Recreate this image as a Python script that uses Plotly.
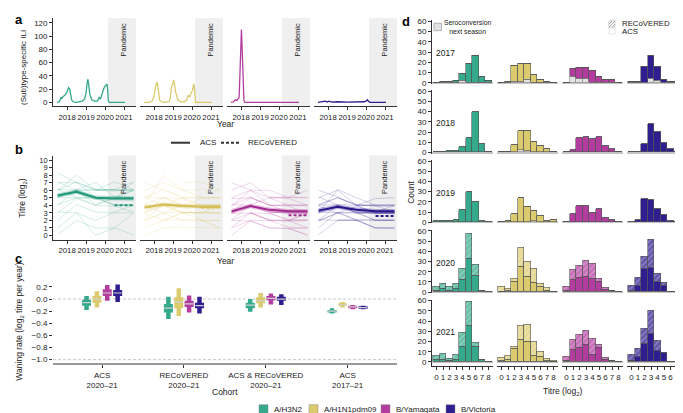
import plotly.graph_objects as go

W, H = 683, 413
def PX(x): return x / W
def PY(y): return 1 - y / H

FONT = "Liberation Sans, Arial, sans-serif"

subtypes = ["A/H3N2", "A/H1N1pdm09", "B/Yamagata", "B/Victoria"]
colors = ["#35a98b", "#dccb6e", "#b23d9f", "#2e1e8f"]
dark_colors = ["#229679", "#d2bd52", "#a22a8e", "#26178a"]

def rgba(h, a):
    h = h.lstrip('#')
    return f"rgba({int(h[0:2],16)},{int(h[2:4],16)},{int(h[4:6],16)},{a})"

# ---------------- Panel a: ILI ----------------
ili_t_h3n2 = [2017.47, 2017.6, 2017.68, 2017.72, 2017.8, 2017.9, 2018.0, 2018.08, 2018.14, 2018.18, 2018.24, 2018.32, 2018.45,
              2018.6, 2018.8, 2018.92, 2019.0, 2019.06, 2019.1, 2019.14, 2019.2, 2019.3, 2019.45, 2019.6, 2019.7, 2019.76,
              2019.84, 2019.9, 2019.98, 2020.04, 2020.1, 2020.13, 2020.17, 2020.22, 2020.5, 2020.8, 2021.05]
ili_v_h3n2 = [0, 1, 8, 6, 9, 11, 16, 22, 20, 12, 4, 1, 0,
              1, 2, 5, 14, 30, 35, 26, 12, 4, 2, 2, 8, 5,
              15, 18, 24, 25, 28, 22, 3, 0, 0, 0, 0]
ili_t_h1n1 = [2017.46, 2017.7, 2017.9, 2018.0, 2018.08, 2018.16, 2018.22, 2018.3, 2018.45, 2018.7, 2018.8, 2018.86, 2018.92,
              2018.97, 2019.03, 2019.08, 2019.14, 2019.25, 2019.4, 2019.6, 2019.72, 2019.8, 2019.88, 2019.95, 2020.02,
              2020.09, 2020.13, 2020.18, 2020.5, 2020.8, 2021.05]
ili_v_h1n1 = [0, 0, 2, 10, 24, 31, 20, 3, 0, 0, 1, 8, 24,
              26, 34, 28, 15, 4, 1, 1, 4, 11, 8, 14, 18,
              28, 20, 0, 0, 0, 0]
ili_t_byam = [2017.47, 2017.6, 2017.7, 2017.78, 2017.84, 2017.9, 2017.95, 2018.0, 2018.02, 2018.06, 2018.1, 2018.15,
              2018.2, 2018.3, 2018.6, 2018.68, 2018.8, 2019.5, 2020.2, 2021.05]
ili_v_byam = [0, 1, 4, 3, 5, 8, 50, 105, 110, 80, 30, 3,
              0, 0, 0, 1, 0, 0, 0, 0]
ili_t_bvic = [2017.47, 2017.7, 2017.85, 2017.95, 2018.05, 2018.2, 2018.5, 2019.0, 2019.5, 2019.9, 2020.0, 2020.07,
              2020.12, 2020.2, 2020.5, 2021.05]
ili_v_bvic = [0, 1, 2, 0.5, 2, 0.5, 1, 0.5, 0.5, 1, 2, 4,
              2, 0, 0, 0]
ili_t = [ili_t_h3n2, ili_t_h1n1, ili_t_byam, ili_t_bvic]
ili_v = [ili_v_h3n2, ili_v_h1n1, ili_v_byam, ili_v_bvic]
year_ticks = [2018, 2019, 2020, 2021]
pandemic_start = 2020.16
x_lo, x_hi = 2017.26, 2021.63

# ---------------- Panel b: titres ----------------
titre_years = [2017, 2018, 2019, 2020, 2021]
titre_shift = 0.5
ind_h3n2 = [
    [5.2, 6.1, 5.0, 5.1, 5.0], [6.0, 7.1, 6.0, 5.9, 6.1], [4.1, 5.0, 4.9, 4.1, 4.0], [7.1, 6.0, 6.1, 6.0, 6.0],
    [3.0, 4.9, 4.0, 3.9, 3.1], [8.3, 7.0, 5.1, 4.0, 4.1], [5.0, 6.0, 6.0, 7.1, 6.1], [2.0, 4.1, 3.1, 3.0, 3.0],
    [6.1, 5.1, 4.0, 5.0, 5.1], [0.1, 2.0, 1.0, 1.0, 0.1], [4.0, 6.1, 7.0, 5.1, 5.0], [7.0, 7.0, 6.1, 6.1, 7.1],
    [5.1, 5.0, 5.1, 4.0, 4.0], [6.0, 8.0, 6.0, 6.1, 6.0], [3.1, 3.0, 2.0, 3.1, 4.0], [5.0, 6.0, 4.1, 5.0, 5.0],
    [1.0, 3.0, 0.0, 1.0, 3.0], [6.1, 6.0, 5.0, 5.0, 6.0], [None, None, 6.0, 6.0, 5.9], [None, None, 5.1, 4.9, 7.1],
    [None, None, None, 4.0, 4.0], [None, None, None, 5.0, 6.0]]
ind_h1n1 = [
    [3.0, 4.0, 4.1, 3.9, 4.0], [5.0, 6.1, 5.0, 5.0, 4.9], [2.0, 3.0, 3.1, 3.0, 2.9], [4.1, 5.0, 4.0, 4.1, 4.0],
    [6.0, 7.0, 6.0, 5.1, 5.0], [1.0, 2.0, 2.1, 2.0, 2.0], [3.9, 3.0, 4.0, 4.9, 5.0], [2.1, 4.1, 3.0, 3.0, 3.1],
    [5.1, 5.0, 4.9, 4.0, 4.1], [0.0, 1.0, 1.1, 1.0, 1.0], [4.0, 8.0, 6.0, 6.1, 6.0], [3.1, 3.9, 3.0, 2.0, 2.0],
    [7.0, 6.0, 5.1, 5.0, 5.1], [2.9, 2.0, 3.0, 3.1, 3.0], [4.0, 4.0, 5.0, 4.0, 4.0], [1.9, 3.0, 2.0, 2.1, 1.0],
    [3.0, 5.1, 4.0, 3.9, 4.0], [5.0, 4.0, 3.1, 3.0, 3.0], [None, 2.0, 3.0, 3.0, 3.9], [None, None, 7.0, 7.1, 6.0],
    [None, None, 4.0, 2.0, 0.9], [None, None, None, 3.0, 4.1]]
ind_byam = [
    [3.0, 4.0, 3.1, 3.0, 3.0], [2.0, 3.0, 2.9, 2.1, 2.0], [4.0, 5.1, 4.0, 4.0, 4.1], [1.0, 2.0, 2.0, 1.1, 1.0],
    [5.0, 6.0, 5.0, 5.1, 5.0], [3.1, 5.0, 4.0, 3.9, 3.0], [7.0, 6.0, 6.0, 5.0, 5.0], [2.1, 4.0, 3.0, 2.0, 2.1],
    [0.0, 2.0, 1.0, 1.0, 0.0], [4.1, 4.0, 3.1, 3.0, 3.0], [6.0, 7.0, 5.0, 4.9, 4.0], [2.9, 3.0, 2.1, 2.0, 3.0],
    [1.1, 3.0, 2.0, 1.9, 2.0], [3.0, 4.1, 5.0, 4.0, 4.0], [4.9, 5.0, 4.0, 4.1, 3.9], [2.0, 1.9, 1.0, 0.9, 0.1],
    [3.9, 6.0, 4.1, 3.0, 3.1], [None, 3.0, 2.0, 2.0, 1.0], [None, None, 5.1, 5.0, 6.0], [None, None, 3.0, 3.1, 3.0],
    [None, None, None, 2.0, 2.9], [None, None, None, 0.9, 1.0]]
ind_bvic = [
    [3.0, 4.0, 3.0, 3.1, 3.0], [2.0, 3.0, 2.1, 2.0, 2.1], [4.0, 5.0, 4.1, 3.9, 4.0], [1.0, 3.1, 2.0, 1.0, 1.1],
    [5.0, 6.0, 4.0, 4.1, 4.0], [3.1, 3.0, 3.0, 3.0, 2.9], [6.0, 5.1, 4.0, 3.0, 3.0], [2.0, 4.0, 3.0, 2.9, 3.0],
    [0.1, 2.0, 2.1, 1.0, 0.9], [4.0, 4.1, 4.0, 4.0, 4.1], [3.0, 6.1, 5.0, 4.0, 3.0], [2.1, 2.0, 2.0, 2.1, 2.0],
    [3.9, 3.0, 3.1, 2.0, 2.0], [5.1, 4.0, 3.0, 3.1, 4.0], [1.9, 3.0, 3.9, 3.0, 3.0], [4.1, 5.0, 4.0, 4.9, 5.0],
    [None, 2.1, 2.0, 1.0, 1.0], [None, None, 4.0, 4.0, 3.9], [None, None, 3.0, 2.0, 2.0], [None, None, None, 3.1, 3.0]]
ind_all = [ind_h3n2, ind_h1n1, ind_byam, ind_bvic]
acs_mean = [[5.3, 5.8, 5.0, 4.9, 4.9], [3.7, 4.1, 3.9, 3.8, 3.8], [3.2, 3.9, 3.4, 3.2, 3.2], [3.3, 3.8, 3.4, 3.2, 3.2]]
acs_lo = [[5.0, 5.5, 4.7, 4.6, 4.6], [3.4, 3.8, 3.6, 3.5, 3.5], [2.9, 3.6, 3.1, 2.9, 2.9], [3.0, 3.5, 3.1, 2.9, 2.9]]
acs_hi = [[5.6, 6.1, 5.3, 5.2, 5.2], [4.0, 4.4, 4.2, 4.1, 4.1], [3.5, 4.2, 3.7, 3.5, 3.5], [3.6, 4.1, 3.7, 3.5, 3.5]]
rec_years = [2020, 2021]
rec_mean = [[4.0, 4.0], [3.7, 3.7], [2.7, 2.7], [2.6, 2.6]]

# ---------------- Panel c: waning ----------------
cohorts = ["ACS<br>2020–21", "RECoVERED<br>2020–21", "ACS & RECoVERED<br>2020–21", "ACS<br>2017–21"]
wane_med = [[-0.06, -0.15, -0.10, -0.20], [0.00, -0.05, -0.03, -0.09], [0.10, -0.08, 0.01, -0.13], [0.10, -0.11, 0.00, -0.14]]
wane_lo50 = [[-0.11, -0.22, -0.15, -0.22], [-0.06, -0.15, -0.07, -0.11], [0.05, -0.13, -0.02, -0.15], [0.05, -0.15, -0.03, -0.16]]
wane_hi50 = [[-0.01, -0.08, -0.06, -0.18], [0.05, 0.03, 0.03, -0.07], [0.16, -0.03, 0.05, -0.11], [0.15, -0.06, 0.04, -0.12]]
wane_lo95 = [[-0.18, -0.33, -0.21, -0.24], [-0.14, -0.28, -0.14, -0.14], [-0.03, -0.22, -0.09, -0.17], [-0.05, -0.24, -0.10, -0.17]]
wane_hi95 = [[0.05, 0.04, 0.00, -0.15], [0.13, 0.18, 0.10, -0.05], [0.23, 0.06, 0.09, -0.10], [0.24, 0.04, 0.08, -0.11]]
dodge = [-0.19, -0.063, 0.063, 0.19]

# ---------------- Panel d: histograms ----------------
titre_bins = [0, 1, 2, 3, 4, 5, 6, 7, 8]
hist_years = [2017, 2018, 2019, 2020, 2021]
zero9 = [0] * 9
hist_sero = [
    [[0, 0, 0, 0, 2, 0, 0, 0, 0], [0, 0, 1, 1, 3, 0, 0, 0, 0], [0, 6, 4, 4, 0, 0, 0, 0, 0], [0, 0, 0, 4, 2, 0, 0, 0, 0]],
    [zero9, [0, 0, 0, 2, 1, 0, 0, 0, 0], zero9, zero9],
    [zero9, [0, 0, 0, 0, 0, 1, 0, 0, 0], zero9, zero9],
    [zero9, zero9, zero9, zero9],
    [zero9, zero9, zero9, zero9]]
hist_acs = [
    [[0, 1, 1, 2, 7, 19, 27, 6, 2], [0, 1, 16, 18, 16, 8, 3, 1, 0], [0, 8, 11, 11, 12, 6, 3, 3, 0], [1, 1, 16, 23, 14, 3, 1, 1, 0]],
    [[0, 0, 1, 1, 5, 14, 39, 8, 0], [0, 0, 7, 19, 20, 10, 6, 3, 0], [0, 2, 14, 15, 13, 15, 6, 3, 0], [0, 0, 8, 28, 20, 9, 3, 0, 0]],
    [[1, 1, 1, 2, 12, 30, 20, 1, 0], [0, 1, 8, 24, 15, 10, 6, 1, 2], [0, 8, 16, 16, 9, 13, 4, 2, 0], [0, 2, 23, 22, 13, 7, 1, 0, 0]],
    [[1, 3, 1, 3, 12, 33, 16, 1, 0], [0, 1, 10, 25, 15, 9, 5, 1, 0], [1, 12, 14, 15, 13, 10, 2, 1, 0], [1, 6, 23, 24, 10, 6, 0, 0, 0]],
    [[2, 2, 1, 2, 15, 36, 15, 2, 0], [1, 2, 13, 22, 20, 6, 5, 1, 0], [1, 12, 14, 17, 7, 14, 2, 1, 0], [1, 5, 18, 28, 11, 9, 0, 0, 0]]]
hist_rec = [
    [zero9, zero9, zero9, zero9],
    [zero9, zero9, zero9, zero9],
    [zero9, zero9, zero9, zero9],
    [[4, 5, 4, 5, 11, 24, 11, 0, 0], [5, 2, 3, 18, 15, 14, 3, 3, 0], [4, 10, 12, 16, 15, 3, 2, 0, 0], [5, 8, 12, 27, 8, 3, 0, 0, 0]],
    [[4, 6, 2, 5, 14, 23, 4, 0, 0], [3, 4, 2, 14, 17, 14, 5, 2, 1], [4, 10, 13, 14, 16, 3, 2, 0, 0], [6, 8, 15, 22, 10, 0, 0, 0, 0]]]

# ================= figure =================
fig = go.Figure()
LINE = "#333333"

def xr(i): return "x" if i == 1 else f"x{i}"
def yr(i): return "y" if i == 1 else f"y{i}"
def xn(i): return "xaxis" if i == 1 else f"xaxis{i}"
def yn(i): return "yaxis" if i == 1 else f"yaxis{i}"

base_ax = dict(showgrid=False, zeroline=False, linecolor=LINE, linewidth=0.8, tickcolor=LINE,
               ticklen=3, tickwidth=0.8, tickfont=dict(size=8, color="#222"), fixedrange=True, tickangle=0)
axes_layout = {}
def set_axes(i, xdom, ydom, xa, ya):
    d = dict(base_ax); d.update(xa); d.update(domain=xdom, anchor=yr(i))
    axes_layout[xn(i)] = d
    e = dict(base_ax); e.update(ya); e.update(domain=ydom, anchor=xr(i))
    axes_layout[yn(i)] = e

shapes = []
annotations = []

def note(text, x, y, size=8.5, angle=0, xanchor="center", yanchor="middle", xref="paper", yref="paper",
         bold=False, color="#222", align="center"):
    annotations.append(dict(text=f"<b>{text}</b>" if bold else text, x=x, y=y, xref=xref, yref=yref, showarrow=False,
                            textangle=angle, xanchor=xanchor, yanchor=yanchor, align=align,
                            font=dict(size=size, color=color)))

# Panel a + b axes
for k in range(4):
    xdom = [PX(45 + 87 * k), PX(128 + 87 * k)]
    ia, ib = 1 + k, 5 + k
    xa = dict(range=[x_lo, x_hi], tickvals=year_ticks, showline=True, ticks="outside", tickfont=dict(size=7.8, color="#222"))
    if k == 0:
        ya_a = dict(range=[-5.9, 127.4], tickvals=[0, 20, 40, 60, 80, 100, 120], showline=True, ticks="outside")
        ya_b = dict(range=[-0.6, 10.6], tickvals=list(range(11)), showline=True, ticks="outside",
                    tickfont=dict(size=7.5, color="#222"))
    else:
        ya_a = dict(range=[-5.9, 127.4], showticklabels=False, showline=False, ticks="")
        ya_b = dict(range=[-0.6, 10.6], showticklabels=False, showline=False, ticks="")
    set_axes(ia, xdom, [PY(97), PY(7)], xa, ya_a)
    set_axes(ib, xdom, [PY(233), PY(147)], dict(xa), ya_b)
    for i in (ia, ib):
        shapes.append(dict(type="rect", xref=xr(i), yref=f"{yr(i)} domain", x0=pandemic_start, x1=x_hi, y0=0, y1=1,
                           fillcolor="#efefef", line=dict(width=0), layer="below"))
        note("Pandemic", 2020.95, 0.97, size=7.5, angle=-90, yanchor="top", xref=xr(i), yref=f"{yr(i)} domain")

    fig.add_trace(go.Scatter(x=ili_t[k], y=ili_v[k], mode="lines", line=dict(color=colors[k], width=1.3),
                             xaxis=xr(ia), yaxis=yr(ia), showlegend=False, hoverinfo="skip"))
    xs, ys = [], []
    for row in ind_all[k]:
        xs += [yv + titre_shift for yv in titre_years] + [None]
        ys += list(row) + [None]
    fig.add_trace(go.Scatter(x=xs, y=ys, mode="lines", line=dict(color=rgba(colors[k], 0.35), width=0.6),
                             xaxis=xr(ib), yaxis=yr(ib), showlegend=False, hoverinfo="skip"))
    xm = [yv + titre_shift for yv in titre_years]
    fig.add_trace(go.Scatter(x=xm, y=acs_hi[k], mode="lines", line=dict(width=0), xaxis=xr(ib), yaxis=yr(ib),
                             showlegend=False, hoverinfo="skip"))
    fig.add_trace(go.Scatter(x=xm, y=acs_lo[k], mode="lines", line=dict(width=0), fill="tonexty",
                             fillcolor=rgba(colors[k], 0.35), xaxis=xr(ib), yaxis=yr(ib), showlegend=False, hoverinfo="skip"))
    fig.add_trace(go.Scatter(x=xm, y=acs_mean[k], mode="lines", line=dict(color=dark_colors[k], width=2),
                             xaxis=xr(ib), yaxis=yr(ib), showlegend=False, hoverinfo="skip"))
    fig.add_trace(go.Scatter(x=[yv + titre_shift for yv in rec_years], y=rec_mean[k], mode="lines",
                             line=dict(color=dark_colors[k], width=2, dash="3px,2px"),
                             xaxis=xr(ib), yaxis=yr(ib), showlegend=False, hoverinfo="skip"))

note("Year", PX(217), PY(115), size=8.5)
note("Year", PX(217), PY(254), size=8.5)
note("(Sub)type-specific ILI", PX(15), PY(58), size=8, angle=-90)
note("Titre (log<sub>2</sub>)", PX(15), PY(190), size=8.5, angle=-90)

# panel b key
shapes.append(dict(type="line", xref="paper", yref="paper", x0=PX(163), x1=PX(182), y0=PY(134), y1=PY(134),
                   line=dict(color="#333", width=2)))
shapes.append(dict(type="line", xref="paper", yref="paper", x0=PX(213), x1=PX(231), y0=PY(134), y1=PY(134),
                   line=dict(color="#333", width=2, dash="3px,2px")))
note("ACS", PX(190), PY(134), size=8, xanchor="left")
note("RECoVERED", PX(238), PY(134), size=8, xanchor="left")

# Panel c
set_axes(9, [PX(45), PX(388.7)], [PY(358.5), PY(274.4)],
         dict(range=[0.4, 4.6], tickvals=[1, 2, 3, 4], ticktext=cohorts, showline=True, linecolor="#999999",
              linewidth=1.5, ticks="outside"),
         dict(range=[-1.062, 0.302], tickvals=[-1.0, -0.8, -0.6, -0.4, -0.2, 0.0, 0.2], tickformat=".1f",
              showline=False, ticks="outside"))
for yv in (0.0, -1.0):
    shapes.append(dict(type="line", xref="x9 domain", yref="y9", x0=0, x1=1, y0=yv, y1=yv,
                       line=dict(color="#bbbbbb", width=0.8, dash="3px,2px"), layer="below"))
groups = [1, 2, 3, 4]
for k in range(4):
    x95, y95, x50, y50, xmd, ymd = [], [], [], [], [], []
    for g in range(4):
        p = groups[g] + dodge[k]
        x95 += [p, p, None]; y95 += [wane_lo95[k][g], wane_hi95[k][g], None]
        x50 += [p, p, None]; y50 += [wane_lo50[k][g], wane_hi50[k][g], None]
        xmd += [p - 0.05, p + 0.05, None]; ymd += [wane_med[k][g], wane_med[k][g], None]
    fig.add_trace(go.Scatter(x=x95, y=y95, mode="lines", line=dict(color=colors[k], width=4.5),
                             xaxis="x9", yaxis="y9", showlegend=False, hoverinfo="skip"))
    fig.add_trace(go.Scatter(x=x50, y=y50, mode="lines", line=dict(color=colors[k], width=9),
                             xaxis="x9", yaxis="y9", showlegend=False, hoverinfo="skip"))
    fig.add_trace(go.Scatter(x=xmd, y=ymd, mode="lines", line=dict(color="#cfcfcf", width=1.2),
                             xaxis="x9", yaxis="y9", showlegend=False, hoverinfo="skip"))
note("Waning rate (log<sub>2</sub> titre per year)", PX(12), PY(316), size=8.5, angle=-90)
note("Cohort", PX(217), PY(388), size=8.5)

# Panel d
zero_px = [73, 144, 215, 286, 357]
d_unit = 6.5
d_x0 = 428.5
for r in range(5):
    for c in range(4):
        i = 10 + 4 * r + c
        bottom_units = 4 if r == 4 else 1
        ydom = [PY(zero_px[r] + bottom_units * 1.04), PY(zero_px[r] - 61 * 1.04)]
        left = d_x0 + 65 * c - 0.7 * d_unit
        xdom = [PX(left), PX(left + 9.4 * d_unit)]
        if r == 4:
            xa = dict(range=[-0.7, 8.7], tickvals=titre_bins, showline=True, ticks="outside")
        else:
            xa = dict(range=[-0.7, 8.7], showticklabels=False, showline=False, ticks="")
        ya = dict(range=[-bottom_units, 61], zeroline=True, zerolinecolor="#c4c4c4", zerolinewidth=2)
        if c == 0:
            ya.update(tickvals=[0, 10, 20, 30, 40, 50, 60], showline=True, ticks="outside")
        else:
            ya.update(showticklabels=False, showline=False, ticks="")
        set_axes(i, xdom, ydom, xa, ya)
        fig.add_trace(go.Bar(x=titre_bins, y=hist_sero[r][c],
                             marker=dict(color="#e3e3e3", line=dict(color="#8a8a8a", width=0.6)),
                             xaxis=xr(i), yaxis=yr(i), showlegend=False, hoverinfo="skip"))
        fig.add_trace(go.Bar(x=titre_bins, y=hist_acs[r][c],
                             marker=dict(color=colors[c], line=dict(color="#555555", width=0.6)),
                             xaxis=xr(i), yaxis=yr(i), name=subtypes[c], showlegend=False, hoverinfo="skip"))
        fig.add_trace(go.Bar(x=titre_bins, y=hist_rec[r][c],
                             marker=dict(color=rgba(colors[c], 0.75), line=dict(color="#555555", width=0.6),
                                         pattern=dict(shape="/", fgcolor="rgba(255,255,255,0.55)", size=4, solidity=0.35)),
                             xaxis=xr(i), yaxis=yr(i), showlegend=False, hoverinfo="skip"))
        if c == 0:
            note(str(hist_years[r]), -0.35, 29, size=8.5, xanchor="left", xref=xr(i), yref=yr(i))

note("Count", PX(403), PY(185), size=8.5, angle=-90)
note("Titre (log<sub>2</sub>)", PX(555), PY(387), size=8.5)

# panel d keys
shapes.append(dict(type="rect", xref="paper", yref="paper", x0=PX(426), x1=PX(433.5), y0=PY(20), y1=PY(12.5),
                   fillcolor="#e3e3e3", line=dict(color="#8a8a8a", width=0.6)))
note("Seroconversion<br>next season", PX(459.5), PY(16.5), size=6.8)
shapes.append(dict(type="rect", xref="paper", yref="paper", x0=PX(601), x1=PX(607), y0=PY(16.5), y1=PY(10),
                   fillcolor="white", line=dict(color="#aaaaaa", width=0.5)))
for (a0, b0, a1, b1) in [(601, 13.5, 604, 10), (601, 16.5, 607, 10), (604, 16.5, 607, 13.5)]:
    shapes.append(dict(type="line", xref="paper", yref="paper", x0=PX(a0), y0=PY(b0), x1=PX(a1), y1=PY(b1),
                       line=dict(color="#666666", width=0.6)))
shapes.append(dict(type="rect", xref="paper", yref="paper", x0=PX(601), x1=PX(607), y0=PY(23.5), y1=PY(17),
                   fillcolor="white", line=dict(color="#cccccc", width=0.5)))
note("RECoVERED", PX(611.5), PY(12.6), size=7.8, xanchor="left")
note("ACS", PX(611.5), PY(21.2), size=7.8, xanchor="left")

# bottom colour key
key_x = [255.5, 305.5, 377.5, 442.5]
for k in range(4):
    shapes.append(dict(type="rect", xref="paper", yref="paper", x0=PX(key_x[k] - 4.5), x1=PX(key_x[k] + 4.5),
                       y0=PY(409.5), y1=PY(400.5), fillcolor=colors[k], line=dict(color="#888888", width=0.5)))
    note(subtypes[k], PX(key_x[k] + 8.5), PY(405), size=8, xanchor="left")

# panel letters
note("a", PX(5), PY(9), size=13, bold=True, xanchor="left", color="#000")
note("b", PX(5), PY(141), size=13, bold=True, xanchor="left", color="#000")
note("c", PX(5), PY(252), size=13, bold=True, xanchor="left", color="#000")
note("d", PX(392), PY(11), size=13, bold=True, xanchor="left", color="#000")

fig.update_layout(
    width=W, height=H, margin=dict(l=0, r=0, t=0, b=0), autosize=False,
    plot_bgcolor="white", paper_bgcolor="white", barmode="stack", bargap=0,
    font=dict(family=FONT, size=8, color="#222"), showlegend=False,
    shapes=shapes, annotations=annotations,
    **axes_layout,
)
fig.write_html("out.html")
